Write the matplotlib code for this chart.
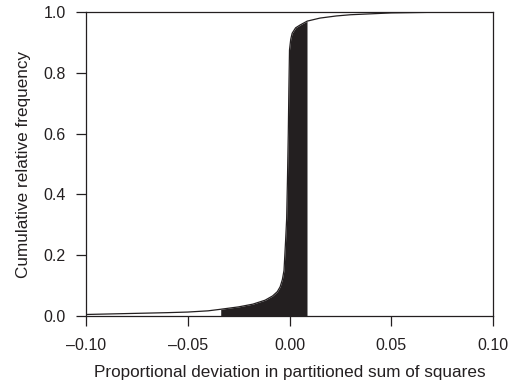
import numpy as np
import matplotlib
matplotlib.use("Agg")
import matplotlib.pyplot as plt

plt.rcParams['font.family'] = ['Liberation Sans', 'DejaVu Sans']

# cumulative distribution
dev = [-0.10, -0.08, -0.06, -0.05, -0.04, -0.034, -0.025, -0.018, -0.012, -0.0083,
       -0.006, -0.0046, -0.0035, -0.0027, -0.0019, -0.0014, -0.0010, -0.0006, -0.0003,
       0.0, 0.0006, 0.0013, 0.003, 0.0054, 0.0087, 0.015, 0.023, 0.03, 0.04, 0.05,
       0.07, 0.10]
cumfreq = [0.005, 0.008, 0.011, 0.013, 0.017, 0.022, 0.030, 0.039, 0.052, 0.066,
           0.080, 0.096, 0.120, 0.15, 0.25, 0.32, 0.45, 0.60, 0.75,
           0.875, 0.91, 0.93, 0.948, 0.958, 0.97, 0.98, 0.987, 0.991, 0.994, 0.997,
           0.999, 1.0]
shade_range = [-0.0338, 0.0086]
xticks = [-0.10, -0.05, 0.00, 0.05, 0.10]
yticks = [0.0, 0.2, 0.4, 0.6, 0.8, 1.0]

fig = plt.figure(figsize=(5.17, 3.82), dpi=100)
ax = fig.add_axes([86/517, 1-316/382, (493-86)/517, (316-12)/382])

dev_a = np.array(dev)
cf_a = np.array(cumfreq)
lo, hi = shade_range
inner = dev_a[(dev_a > lo) & (dev_a < hi)]
fx = np.concatenate([[lo], inner, [hi]])
fy = np.interp(fx, dev_a, cf_a)
ax.fill_between(fx, 0, fy, color='#231f20', linewidth=0)
ax.plot(dev_a, cf_a, color='#231f20', lw=0.9)

ax.set_xlim(-0.10, 0.10)
ax.set_ylim(0, 1.0)
ax.set_xticks(xticks)
ax.set_xticklabels([f"{t:.2f}".replace('-', '\u2013') for t in xticks])
ax.set_yticks(yticks)
ax.set_yticklabels([f"{t:.1f}" for t in yticks])
for s in ax.spines.values():
    s.set_linewidth(0.9)
    s.set_color('#231f20')
ax.tick_params(direction='out', length=7.5, width=0.9, color='#231f20',
               labelsize=11.5, labelcolor='#231f20')
ax.tick_params(axis='x', pad=8)
ax.tick_params(axis='y', pad=7)
ax.set_xlabel('Proportional deviation in partitioned sum of squares', fontsize=12.3,
              color='#231f20', labelpad=9)
ax.set_ylabel('Cumulative relative frequency', fontsize=12.3, color='#231f20', labelpad=9)

fig.savefig('out.png', dpi=100)
